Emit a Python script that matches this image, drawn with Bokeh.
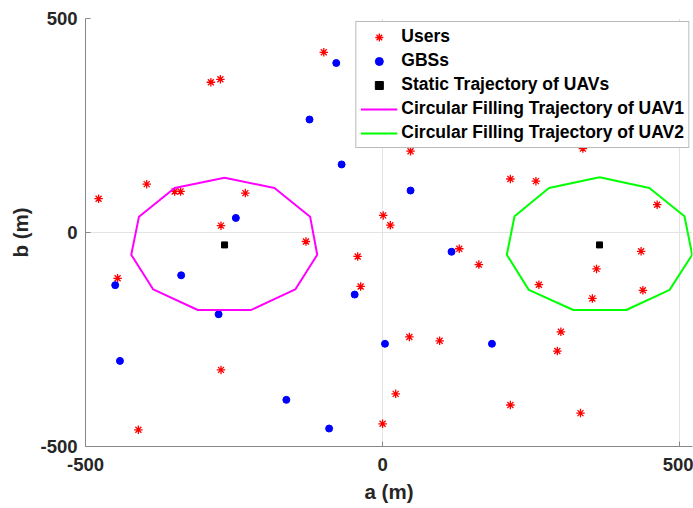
from bokeh.plotting import figure
from bokeh.models import Range1d, Legend, LegendItem, FixedTicker
from bokeh.embed import file_html
from bokeh.resources import INLINE

# ---- data ----
users_x = [-478, -397, -350, -340, -289, -273, -231, -272, -99, 47, 1, 13, 337, 215, 258, 462,
           -446, -272, -411, -129, -42, -37, 129, 162, 45, 96, 22, 0, 435, 360, 263, 438,
           353, 300, 294, 215, 333]
users_y = [79, 113, 96, 96, 351, 358, 92, 16, 421, 190, 40, 17, 196, 125, 120, 65,
           -107, -321, -461, -21, -56, -126, -38, -75, -244, -253, -377, -447, -44, -85, -122, -135,
           -154, -232, -277, -403, -422]

gbs_x = [-247, -78, -123, -69, 47, 170, -339, -450, -276, -442, -162, -47, 116, 4, -90, 184]
gbs_y = [34, 396, 264, 159, 98, 211, -100, -123, -191, -300, -391, -145, -45, -260, -458, -260]

uav_x = [-266, 365]
uav_y = [-29, -29]

traj1_x = [-266, -182, -122, -110, -147, -221, -311, -386, -423, -410, -350, -266]
traj1_y = [128, 104, 37, -52, -133, -181, -181, -133, -52, 37, 104, 128]

traj2_x = [365, 449, 508, 521, 483, 410, 321, 246, 209, 222, 280, 365]
traj2_y = [129, 104, 38, -52, -134, -181, -181, -134, -52, 38, 104, 129]

ticks = [-500, 0, 500]
tick_labels = ["-500", "0", "500"]

labels = ["Users", "GBSs", "Static Trajectory of UAVs",
          "Circular Filling Trajectory of UAV1", "Circular Filling Trajectory of UAV2"]

FONT = "Liberation Sans"
TXT = "#262626"

p = figure(width=693, height=508, output_backend="svg", toolbar_location=None,
           x_range=Range1d(-500, 521.5), y_range=Range1d(-500, 500),
           min_border_left=85, min_border_right=1, min_border_top=18, min_border_bottom=62,
           x_axis_label="a (m)", y_axis_label="b (m)")
p.outline_line_color = None
p.background_fill_color = "white"
p.border_fill_color = "white"

r_users = p.scatter(users_x, users_y, marker="asterisk", size=8.5, line_color="#ff0000", line_width=1.3)
r_gbs = p.scatter(gbs_x, gbs_y, marker="circle", size=7, fill_color="#0000ff", line_color="#0000ff")
r_uav = p.scatter(uav_x, uav_y, marker="square", size=6, fill_color="black", line_color="black")
r_t1 = p.line(traj1_x, traj1_y, line_color="#ff00ff", line_width=2)
r_t2 = p.line(traj2_x, traj2_y, line_color="#00ff00", line_width=2)

overrides = {t: s for t, s in zip(ticks, tick_labels)}
for ax in (p.xaxis[0], p.yaxis[0]):
    ax.ticker = FixedTicker(ticks=ticks)
    ax.major_label_overrides = overrides
    ax.minor_tick_line_color = None
    ax.major_tick_in = 5
    ax.major_tick_out = 0
    ax.major_tick_line_color = "#888888"
    ax.axis_line_color = "#888888"
    ax.axis_line_width = 1
    ax.major_label_text_font = FONT
    ax.major_label_text_font_style = "bold"
    ax.major_label_text_font_size = "18.5px"
    ax.major_label_text_color = TXT
    ax.axis_label_text_font = FONT
    ax.axis_label_text_font_style = "bold"
    ax.axis_label_text_font_size = "20.5px"
    ax.axis_label_text_color = TXT

p.xaxis[0].major_label_standoff = 11
p.xaxis[0].axis_label_standoff = 6
p.yaxis[0].major_label_standoff = 8
p.yaxis[0].axis_label_standoff = 5

for g in (p.xgrid[0], p.ygrid[0]):
    g.ticker = FixedTicker(ticks=ticks)
    g.grid_line_color = "#e3e3e3"
    g.grid_line_width = 1

legend = Legend(items=[
    LegendItem(label=labels[0], renderers=[r_users]),
    LegendItem(label=labels[1], renderers=[r_gbs]),
    LegendItem(label=labels[2], renderers=[r_uav]),
    LegendItem(label=labels[3], renderers=[r_t1]),
    LegendItem(label=labels[4], renderers=[r_t2]),
])
legend.location = "top_right"
legend.margin = 3
legend.padding = 4
legend.spacing = 3
legend.glyph_width = 37
legend.glyph_height = 20
legend.label_height = 20
legend.label_standoff = 4
legend.label_text_font = FONT
legend.label_text_font_style = "bold"
legend.label_text_font_size = "17.5px"
legend.label_text_color = "black"
legend.border_line_color = "#777777"
legend.border_line_width = 1
legend.background_fill_color = "white"
legend.background_fill_alpha = 1
p.add_layout(legend, "center")

open("out.html", "w").write(file_html(p, INLINE))
